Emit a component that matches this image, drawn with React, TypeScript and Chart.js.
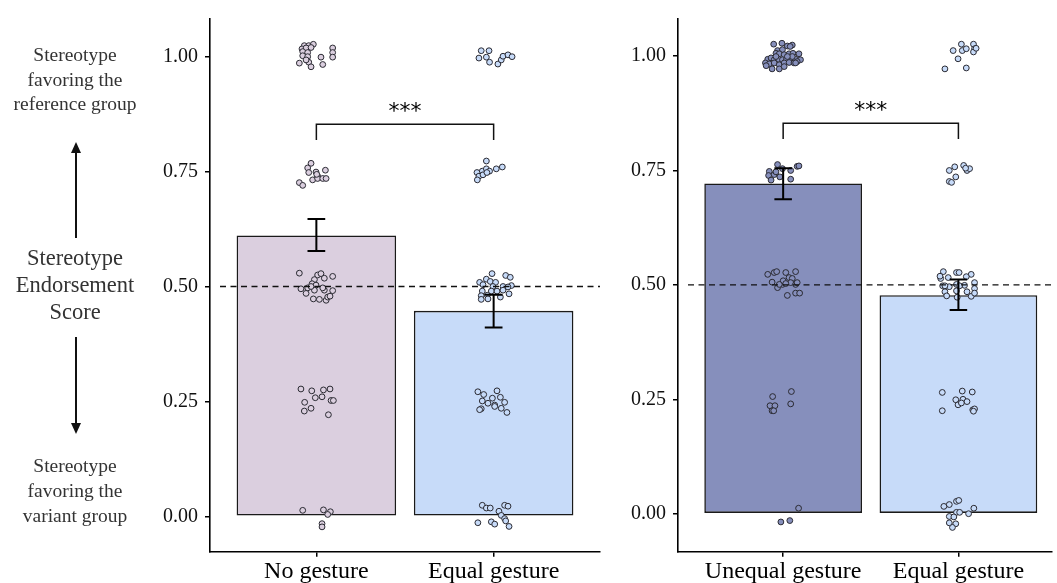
import React, { useEffect, useRef } from 'react';
import { Chart, registerables } from 'chart.js';

Chart.register(...registerables);

// ---------- data ----------
const panel1Categories = ['No gesture', 'Equal gesture'];
const panel2Categories = ['Unequal gesture', 'Equal gesture'];

const panel1Means = [0.611, 0.447];
const panel1Lower = [0.577, 0.411];
const panel1Upper = [0.647, 0.482];

const panel2Means = [0.7215, 0.4775];
const panel2Lower = [0.687, 0.445];
const panel2Upper = [0.755, 0.512];

const yTicks = [0, 0.25, 0.5, 0.75, 1];
const referenceLine = 0.5;
const significanceLabel = '***';
const bracketTop = 0.853;
const bracketLeg = 0.819;
const starsY = 0.866;

const leftTopLines = ['Stereotype', 'favoring the', 'reference group'];
const leftMidLines = ['Stereotype', 'Endorsement', 'Score'];
const leftBottomLines = ['Stereotype', 'favoring the', 'variant group'];

// jittered individual scores: [x offset from category centre, score]
const noGesturePoints: [number, number][] = [
  [-0.068, 1.024], [-0.043, 1.024], [-0.017, 1.027], [-0.081, 1.017], [-0.058, 1.019], [-0.030, 1.020], [-0.077, 1.011],
  [-0.049, 1.009], [-0.077, 1.002], [-0.049, 1.000], [-0.096, 0.986], [-0.043, 0.988], [-0.030, 0.978], [0.026, 0.999],
  [0.036, 0.983], [0.092, 1.019], [0.092, 1.009], [0.092, 0.999], [-0.058, 0.993],
  [-0.030, 0.768], [-0.049, 0.758], [-0.043, 0.748], [-0.002, 0.749], [0.007, 0.740], [0.051, 0.753], [-0.021, 0.732],
  [0.007, 0.735], [0.036, 0.735], [0.055, 0.735], [-0.096, 0.726], [-0.077, 0.720], [0.002, 0.744],
  [-0.096, 0.529], [0.007, 0.525], [0.026, 0.528], [0.045, 0.518], [0.092, 0.522], [-0.011, 0.515], [-0.024, 0.506],
  [-0.002, 0.503], [-0.049, 0.497], [-0.087, 0.495], [-0.058, 0.485], [-0.011, 0.492], [0.045, 0.492], [0.092, 0.491],
  [-0.017, 0.473], [0.017, 0.472], [0.055, 0.470], [0.064, 0.477], [0.077, 0.479], [-0.030, 0.500], [0.036, 0.497],
  [-0.087, 0.277], [-0.026, 0.273], [0.040, 0.275], [0.077, 0.277], [-0.006, 0.258], [0.032, 0.260], [-0.066, 0.248],
  [0.083, 0.252], [0.096, 0.252], [-0.030, 0.235], [-0.068, 0.229], [0.068, 0.221],
  [-0.077, 0.013], [0.040, 0.014], [0.079, 0.010], [0.064, 0.004], [0.032, -0.016], [0.032, -0.023],
];

const equalGesture1Points: [number, number][] = [
  [-0.070, 1.013], [-0.026, 1.013], [-0.083, 0.997], [-0.041, 0.999], [-0.023, 0.988], [0.024, 0.984], [0.043, 0.993],
  [0.053, 1.001], [0.081, 1.004], [0.104, 1.000],
  [-0.041, 0.773], [-0.064, 0.751], [-0.041, 0.756], [-0.023, 0.751], [-0.094, 0.748], [-0.083, 0.740], [-0.060, 0.743],
  [-0.092, 0.732], [0.015, 0.756], [0.049, 0.760], [-0.038, 0.748],
  [-0.009, 0.528], [0.068, 0.524], [0.094, 0.520], [-0.079, 0.509], [-0.041, 0.516], [-0.019, 0.511], [0.011, 0.509],
  [-0.060, 0.504], [-0.004, 0.500], [0.053, 0.500], [0.100, 0.502], [-0.064, 0.490], [-0.013, 0.490], [0.019, 0.490],
  [0.053, 0.492], [0.087, 0.484], [-0.070, 0.480], [-0.036, 0.481], [-0.070, 0.472], [-0.032, 0.473], [0.038, 0.477],
  [0.081, 0.499],
  [-0.089, 0.271], [-0.056, 0.265], [0.019, 0.273], [0.038, 0.259], [-0.007, 0.257], [-0.064, 0.251], [-0.032, 0.246],
  [0.006, 0.242], [0.062, 0.248], [0.006, 0.239], [0.043, 0.235], [-0.070, 0.234], [0.075, 0.226], [-0.079, 0.232],
  [-0.064, 0.024], [-0.041, 0.018], [-0.019, 0.018], [0.062, 0.024], [0.081, 0.022], [0.030, 0.011], [0.043, 0.002],
  [0.062, -0.005], [0.068, -0.010], [-0.089, -0.014], [-0.013, -0.012], [0.006, -0.017], [0.087, -0.022],
];

const unequalGesturePoints: [number, number][] = [
  [-0.054, 1.026], [-0.007, 1.028], [0.024, 1.022], [0.052, 1.024], [0.040, 1.021], [-0.032, 1.012], [-0.004, 1.014],
  [-0.041, 1.006], [-0.022, 1.005], [0.006, 1.003], [0.034, 1.005], [0.056, 1.006], [0.090, 1.005], [-0.088, 0.993],
  [-0.069, 0.996], [-0.051, 0.992], [-0.026, 0.993], [-0.004, 0.992], [0.019, 0.993], [0.043, 0.996], [0.071, 0.993],
  [0.099, 0.992], [-0.101, 0.985], [-0.079, 0.983], [-0.051, 0.985], [-0.022, 0.981], [0.006, 0.985], [0.034, 0.986],
  [0.062, 0.985], [0.080, 0.988], [-0.097, 0.979], [-0.063, 0.972], [-0.022, 0.972], [0.006, 0.977], [0.052, 0.999],
  [0.024, 0.999], [-0.041, 0.999], [0.071, 0.985],
  [-0.032, 0.763], [-0.079, 0.748], [-0.083, 0.739], [-0.051, 0.741], [-0.069, 0.729], [-0.019, 0.736], [0.043, 0.750],
  [0.043, 0.731], [0.080, 0.759], [0.090, 0.760], [-0.004, 0.754], [-0.041, 0.747],
  [-0.088, 0.523], [-0.051, 0.527], [-0.037, 0.529], [0.015, 0.527], [0.071, 0.529], [-0.063, 0.506], [-0.032, 0.494],
  [-0.004, 0.501], [0.000, 0.509], [0.034, 0.516], [0.052, 0.514], [0.043, 0.505], [0.071, 0.501], [0.080, 0.505],
  [0.024, 0.477], [0.071, 0.482], [0.094, 0.482], [0.015, 0.503], [-0.022, 0.501],
  [-0.060, 0.256], [0.047, 0.267], [-0.075, 0.236], [-0.047, 0.236], [-0.063, 0.225], [-0.054, 0.225], [0.043, 0.240],
  [0.088, 0.012], [-0.013, -0.018], [0.038, -0.015],
];

const equalGesture2Points: [number, number][] = [
  [0.017, 1.026], [0.086, 1.026], [-0.030, 1.012], [0.022, 1.012], [0.045, 1.016], [0.092, 1.016], [0.086, 1.009],
  [0.101, 1.017], [-0.002, 0.994], [-0.077, 0.972], [0.045, 0.974],
  [-0.052, 0.750], [-0.021, 0.758], [0.030, 0.761], [0.049, 0.750], [0.064, 0.754], [-0.015, 0.736], [-0.052, 0.726],
  [-0.039, 0.724], [0.041, 0.755],
  [-0.086, 0.529], [-0.011, 0.527], [0.004, 0.527], [0.073, 0.523], [-0.101, 0.514], [-0.058, 0.516], [0.045, 0.518],
  [-0.090, 0.498], [-0.052, 0.496], [-0.011, 0.501], [0.035, 0.499], [0.092, 0.505], [0.092, 0.492], [-0.077, 0.485],
  [-0.011, 0.487], [0.049, 0.485], [-0.067, 0.476], [-0.007, 0.473], [0.073, 0.475], [0.092, 0.482], [-0.105, 0.519],
  [0.007, 0.498], [-0.077, 0.498],
  [-0.092, 0.265], [0.022, 0.268], [0.079, 0.266], [-0.015, 0.249], [0.026, 0.250], [0.049, 0.245], [-0.002, 0.238],
  [0.017, 0.242], [-0.092, 0.225], [0.082, 0.227], [0.092, 0.229], [0.086, 0.224],
  [-0.011, 0.027], [0.002, 0.029], [-0.052, 0.020], [-0.083, 0.016], [-0.011, 0.003], [0.007, 0.003], [0.058, 0.000],
  [0.088, 0.012], [-0.052, -0.006], [-0.026, -0.007], [-0.052, -0.020], [-0.015, -0.022], [-0.034, -0.030],
];

// ---------- styles ----------
const SERIF = '"Liberation Serif", "DejaVu Serif", serif';
const colNoGesture = '#dbcfdf';
const colEqual = '#c7dbf9';
const colUnequal = '#868fbc';
const pointBorder = '#2a2a32';

type PanelCfg = {
  categories: string[];
  means: number[];
  lower: number[];
  upper: number[];
  colors: string[];
  pointSets: [number, number][][];
  pointColors: string[];
  yMin: number;
  yMax: number;
  xMax: number;
  padding: { left: number; right: number; top: number; bottom: number };
  leftText: boolean;
};

function makeDecor(cfg: PanelCfg) {
  return {
    id: 'decor',
    afterDatasetsDraw(chart: any) {
      const { ctx, chartArea, scales } = chart;
      const x = scales.x;
      const y = scales.y;
      ctx.save();
      // reference line
      const yRef = y.getPixelForValue(referenceLine);
      ctx.setLineDash([6, 4.5]);
      ctx.lineWidth = 1.4;
      ctx.strokeStyle = '#111';
      ctx.beginPath();
      ctx.moveTo(chartArea.left + 10, yRef);
      ctx.lineTo(chartArea.right, yRef);
      ctx.stroke();
      ctx.setLineDash([]);
      // error bars
      ctx.lineWidth = 2;
      ctx.strokeStyle = '#000';
      cfg.means.forEach((_, i) => {
        const cx = x.getPixelForValue(i + 1);
        const hw = x.getPixelForValue(i + 1 + 0.05) - cx;
        const yl = y.getPixelForValue(cfg.lower[i]);
        const yu = y.getPixelForValue(cfg.upper[i]);
        ctx.beginPath();
        ctx.moveTo(cx, yl);
        ctx.lineTo(cx, yu);
        ctx.moveTo(cx - hw, yl);
        ctx.lineTo(cx + hw, yl);
        ctx.moveTo(cx - hw, yu);
        ctx.lineTo(cx + hw, yu);
        ctx.stroke();
      });
      // significance bracket
      const x1 = x.getPixelForValue(1);
      const x2 = x.getPixelForValue(2);
      const yt = y.getPixelForValue(bracketTop);
      const yl = y.getPixelForValue(bracketLeg);
      ctx.lineWidth = 1.5;
      ctx.strokeStyle = '#111';
      ctx.beginPath();
      ctx.moveTo(x1, yl);
      ctx.lineTo(x1, yt);
      ctx.lineTo(x2, yt);
      ctx.lineTo(x2, yl);
      ctx.stroke();
      ctx.fillStyle = '#000';
      ctx.font = '22px "DejaVu Sans", sans-serif';
      ctx.textAlign = 'center';
      ctx.textBaseline = 'alphabetic';
      ctx.fillText(significanceLabel, (x1 + x2) / 2, y.getPixelForValue(starsY));
      ctx.restore();
    },
    afterDraw(chart: any) {
      if (!cfg.leftText) return;
      const { ctx } = chart;
      const cx = 75;
      ctx.save();
      ctx.fillStyle = '#333';
      ctx.textAlign = 'center';
      ctx.textBaseline = 'middle';
      ctx.font = `19.5px ${SERIF}`;
      leftTopLines.forEach((t, i) => ctx.fillText(t, cx, 56 + i * 24.5));
      leftBottomLines.forEach((t, i) => ctx.fillText(t, cx, 467 + i * 25));
      ctx.font = `22.5px ${SERIF}`;
      leftMidLines.forEach((t, i) => ctx.fillText(t, cx, 259 + i * 27));
      // arrows
      ctx.strokeStyle = '#111';
      ctx.fillStyle = '#111';
      ctx.lineWidth = 2;
      ctx.beginPath();
      ctx.moveTo(cx + 1, 238);
      ctx.lineTo(cx + 1, 150);
      ctx.moveTo(cx + 1, 337);
      ctx.lineTo(cx + 1, 425);
      ctx.stroke();
      ctx.beginPath();
      ctx.moveTo(cx + 1, 142);
      ctx.lineTo(cx - 4, 153);
      ctx.lineTo(cx + 6, 153);
      ctx.closePath();
      ctx.fill();
      ctx.beginPath();
      ctx.moveTo(cx + 1, 434);
      ctx.lineTo(cx - 4, 423);
      ctx.lineTo(cx + 6, 423);
      ctx.closePath();
      ctx.fill();
      ctx.restore();
    },
  };
}

function buildConfig(cfg: PanelCfg): any {
  const datasets: any[] = cfg.pointSets.map((pts, gi) => ({
    type: 'scatter',
    data: pts.map(([dx, v]) => ({ x: gi + 1 + dx, y: v })),
    backgroundColor: cfg.pointColors[gi],
    borderColor: pointBorder,
    borderWidth: 1,
    pointRadius: 2.9,
    order: 1,
  }));
  datasets.push({
    type: 'bar',
    data: cfg.means.map((m, i) => ({ x: i + 1, y: m })),
    backgroundColor: cfg.colors,
    borderColor: '#1a1a1a',
    borderWidth: 1.6,
    borderSkipped: false,
    categoryPercentage: 0.9,
    barPercentage: 1,
    order: 2,
  });
  return {
    type: 'bar',
    data: { datasets },
    options: {
      responsive: false,
      animation: false,
      events: [],
      layout: { padding: cfg.padding },
      plugins: { legend: { display: false }, tooltip: { enabled: false } },
      scales: {
        x: {
          type: 'linear',
          offset: false,
          min: 0.4,
          max: cfg.xMax,
          afterBuildTicks: (s: any) => {
            s.ticks = cfg.categories.map((_, i) => ({ value: i + 1 }));
          },
          afterFit: (s: any) => {
            s.height = 31.3;
          },
          ticks: {
            autoSkip: false,
            maxRotation: 0,
            padding: 1,
            color: '#000',
            font: { family: SERIF, size: 24 },
            callback: (v: any) => cfg.categories[Math.round(v) - 1] ?? '',
          },
          grid: { display: true, offset: false, drawOnChartArea: false, drawTicks: true, tickLength: 5, color: '#000', lineWidth: 1.5 },
          border: { display: true, color: '#000', width: 1.6 },
        },
        y: {
          type: 'linear',
          min: cfg.yMin,
          max: cfg.yMax,
          afterBuildTicks: (s: any) => {
            s.ticks = yTicks.map((v) => ({ value: v }));
          },
          afterFit: (s: any) => {
            s.width = 60;
          },
          ticks: {
            padding: 7,
            color: '#111',
            font: { family: SERIF, size: 20 },
            callback: (v: any) => Number(v).toFixed(2),
          },
          grid: { display: true, drawOnChartArea: false, drawTicks: true, tickLength: 5, color: '#000', lineWidth: 1.5 },
          border: { display: true, color: '#000', width: 1.6 },
        },
      },
    },
    plugins: [makeDecor(cfg)],
  };
}

const panel1: PanelCfg = {
  categories: panel1Categories,
  means: panel1Means,
  lower: panel1Lower,
  upper: panel1Upper,
  colors: [colNoGesture, colEqual],
  pointSets: [noGesturePoints, equalGesture1Points],
  pointColors: [colNoGesture, colEqual],
  yMin: -0.077,
  yMax: 1.082,
  xMax: 2.6,
  padding: { left: 150, right: 10, top: 13, bottom: 0 },
  leftText: true,
};

const panel2: PanelCfg = {
  categories: panel2Categories,
  means: panel2Means,
  lower: panel2Lower,
  upper: panel2Upper,
  colors: [colUnequal, colEqual],
  pointSets: [unequalGesturePoints, equalGesture2Points],
  pointColors: [colUnequal, colEqual],
  yMin: -0.083,
  yMax: 1.081,
  xMax: 2.534,
  padding: { left: 18, right: 0, top: 14, bottom: 0 },
  leftText: false,
};

function Panel({ cfg, left, width }: { cfg: PanelCfg; left: number; width: number }) {
  const ref = useRef<HTMLCanvasElement | null>(null);
  useEffect(() => {
    if (!ref.current) return;
    const chart = new Chart(ref.current, buildConfig(cfg));
    return () => chart.destroy();
  }, [cfg]);
  return (
    <canvas
      ref={ref}
      width={width}
      height={583}
      style={{ position: 'absolute', left, top: 0, width, height: 583 }}
    />
  );
}

export default function App() {
  return (
    <div
      style={{
        position: 'fixed',
        left: 0,
        top: 0,
        width: 1057,
        height: 583,
        overflow: 'hidden',
        background: '#fff',
      }}
    >
      <Panel cfg={panel1} left={0} width={610} />
      <Panel cfg={panel2} left={600} width={457} />
    </div>
  );
}
